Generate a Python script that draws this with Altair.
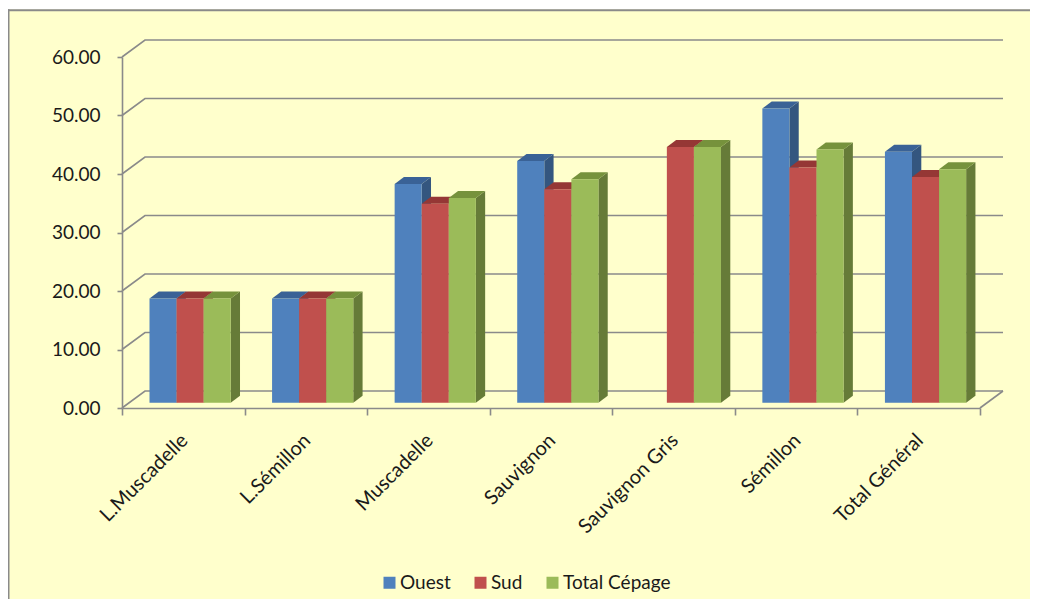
import altair as alt
import pandas as pd

categories = ["L.Muscadelle", "L.Sémillon", "Muscadelle", "Sauvignon",
              "Sauvignon Gris", "Sémillon", "Total Général"]
series_names = ["Ouest", "Sud", "Total Cépage"]
ouest = [17.8, 17.8, 37.4, 41.3, None, 50.3, 42.9]
sud = [17.8, 17.8, 34.0, 36.5, 43.7, 40.2, 38.6]
total_cepage = [17.8, 17.8, 35.0, 38.2, 43.7, 43.3, 39.9]
y_ticks = [0, 10, 20, 30, 40, 50, 60]

front_colors = ["#4F81BD", "#C0504D", "#9BBB59"]
side_colors = ["#34567F", "#8A3836", "#667B38"]
top_colors = ["#3A6296", "#953735", "#76923C"]
GRAY = "#8A8A8A"
BG = "#FFFFCC"

W, H = 858, 351
N = len(categories)
PX_X = W / N
PX_Y = H / 60.0
WALL_DX, WALL_DY = 23 / PX_X, 17 / PX_Y
BAR_LEFT, BAR_W = 27.5 / PX_X, 27.07 / PX_X
BAR_BASE = 5.3 / PX_Y
DEPTH_X, DEPTH_Y = 9.3 / PX_X, 7.0 / PX_Y

y_axis = alt.Axis(
    values=y_ticks, format=".2f", grid=False, domainColor=GRAY, domainWidth=1.6,
    tickColor=GRAY, tickWidth=1.6, tickSize=5, labelPadding=17, zindex=1, title=None,
    labelFont="Lato", labelFontSize=19, labelColor="#1a1a1a")
xs = alt.Scale(domain=[0, N], nice=False, zero=False)
ys = alt.Scale(domain=[0, 60], nice=False)
X = lambda f: alt.X(f, type="quantitative", scale=xs, axis=None)
Y = lambda f: alt.Y(f, type="quantitative", scale=ys, axis=y_axis, stack=False)

# page decoration
one = pd.DataFrame({"a": [0]})
bg = alt.Chart(one).mark_rect(color=BG).encode(
    x=alt.value(-114), x2=alt.value(916), y=alt.value(-47.7), y2=alt.value(550))
left_border = alt.Chart(one).mark_rect(color=GRAY).encode(
    x=alt.value(-114), x2=alt.value(-112.5), y=alt.value(-47.7), y2=alt.value(550))
top_border = alt.Chart(one).mark_rect(color=GRAY).encode(
    x=alt.value(-114), x2=alt.value(916), y=alt.value(-47.7), y2=alt.value(-45.7))

# walls
rows = []
for v in y_ticks:
    rows += [dict(k=v, x=0, y=v), dict(k=v, x=WALL_DX, y=v + WALL_DY),
             dict(k=v, x=N + WALL_DX, y=v + WALL_DY)]
rows += [dict(k=-1, x=N, y=0), dict(k=-1, x=N + WALL_DX, y=WALL_DY)]
grid = alt.Chart(pd.DataFrame(rows)).mark_line(color=GRAY, strokeWidth=1.6).encode(
    x=X("x"), y=Y("y"), detail="k:N", order=alt.Order("x:Q"))

# category axis
cat_axis = alt.Chart(pd.DataFrame({"c": categories})).mark_point(opacity=0).encode(
    x=alt.X("c:N", sort=categories, title=None,
            scale=alt.Scale(type="band", domain=categories, paddingInner=0, paddingOuter=0),
            axis=alt.Axis(tickBand="extent", labelAngle=-45, labelAlign="right", zindex=1,
                          labelBaseline="middle", labelPadding=22, domainColor=GRAY,
                          domainWidth=1.6, tickColor=GRAY, tickWidth=1.6, tickSize=7,
                          labelFont="Lato", labelFontSize=20, labelColor="#1a1a1a",
                          labelLimit=200, labelOffset=1)),
    y=alt.value(0))

color_scale = alt.Scale(domain=series_names, range=front_colors)
legend = alt.Legend(title=None, orient="none", legendX=258, legendY=516, direction="horizontal",
                    columns=3, symbolType="square", symbolSize=144, symbolStrokeWidth=0,
                    labelFont="Lato", labelFontSize=19, labelColor="#1a1a1a",
                    labelOffset=1, columnPadding=20, padding=0)

layers = [bg, left_border, top_border, grid, cat_axis]
for s, (name, values) in enumerate(zip(series_names, [ouest, sud, total_cepage])):
    side, top, front = [], [], []
    for i, v in enumerate(values):
        if v is None:
            continue
        xl = i + BAR_LEFT + s * BAR_W
        xr = xl + BAR_W
        yt = v + BAR_BASE
        y0 = BAR_BASE
        front.append(dict(series=name, x0=xl, x1=xr, y0=y0, y1=yt))
        side += [dict(i=i, x=xr, y=yt, y2=y0),
                 dict(i=i, x=xr + DEPTH_X, y=yt + DEPTH_Y, y2=y0 + DEPTH_Y)]
        top += [dict(i=i, x=xl, y=yt, y2=yt),
                dict(i=i, x=xl + DEPTH_X, y=yt + DEPTH_Y, y2=yt),
                dict(i=i, x=xr, y=yt + DEPTH_Y, y2=yt),
                dict(i=i, x=xr + DEPTH_X, y=yt + DEPTH_Y, y2=yt + DEPTH_Y)]
    for rows_, col in ((side, side_colors[s]), (top, top_colors[s])):
        layers.append(alt.Chart(pd.DataFrame(rows_)).mark_area(color=col, interpolate="linear").encode(
            x=X("x"), y=Y("y"), y2="y2:Q", detail="i:N"))
    layers.append(alt.Chart(pd.DataFrame(front)).mark_rect().encode(
        x=X("x0"), x2="x1:Q", y=Y("y0"), y2="y1:Q",
        color=alt.Color("series:N", scale=color_scale, legend=legend)))

chart = alt.layer(*layers).resolve_scale(x="independent").properties(
    width=W, height=H,
    padding={"left": 114, "top": 49, "right": 50, "bottom": 191},
    autosize=alt.AutoSizeParams(type="none"),
    background="white",
).configure_view(stroke=None)

chart.save("out.html", embed_options={"renderer": "svg", "actions": False})
